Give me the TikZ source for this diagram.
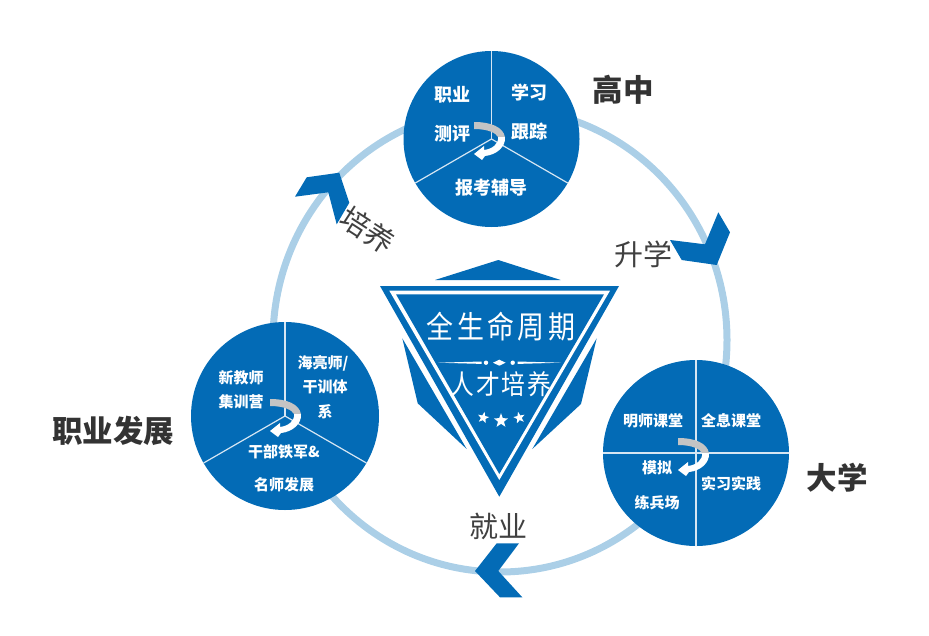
\documentclass[tikz,border=0pt]{standalone}
\usepackage{fontspec}
\setmainfont{Noto Sans CJK SC}
\usetikzlibrary{shapes.geometric}
\definecolor{badgeblue}{HTML}{036BB6}
\definecolor{ringblue}{HTML}{ABCFE7}
\definecolor{seamblue}{HTML}{D6E6F3}
\definecolor{turngrey}{HTML}{C4C4C4}
\definecolor{wordgrey}{HTML}{404040}
\tikzset{
  stagedisc/.style={circle, fill=badgeblue, inner sep=0pt, outer sep=0pt},
  seam/.style={draw=seamblue, line width=1.2pt},
  chevron/.style={fill=badgeblue},
  cell/.style={text=white, font=\bfseries\fontsize{#1}{#1}\selectfont, inner sep=0pt},
  cell/.default=15,
  stage/.style={text=black!80, font=\bfseries\fontsize{30.5}{31}\selectfont, inner sep=0pt},
  link/.style={text=wordgrey, font=\fontsize{29}{30}\selectfont, inner sep=0pt},
  badgestar/.style={star, star points=5, star point ratio=2.4, fill=white, inner sep=0pt},
  turnarrow/.pic={
    \fill[turngrey] (0,0) .. controls (17,0) and (29,5) .. (31,15) -- (24,15)
      .. controls (22,11) and (14,7) .. (0,7) -- cycle;
    \fill[white] (31,15) .. controls (32,25) and (22,33) .. (11,34) -- (8,38) -- (0,32) -- (10,24)
      -- (10,28) .. controls (18,27) and (25,22) .. (24,15) -- cycle;
  }
}
\begin{document}
\begin{tikzpicture}[x=1pt, y=-1pt]
  \useasboundingbox (0,0) rectangle (929,635);

  % ring behind the discs
  \draw[ringblue, line width=7pt] (500,340) ellipse [x radius=227, y radius=232];

  % arrows on the ring
  \fill[chevron] (295,196.7) -- (306.7,177.3) -- (339.3,172.7) -- (349.3,202.7) -- (336.7,224.3) -- (328.3,192.3) -- cycle;
  \fill[chevron] (670,240) -- (705,244.3) -- (718.3,212.3) -- (730,232.3) -- (716.7,265) -- (681.7,260) -- cycle;
  \fill[chevron] (475,571) -- (496.7,543.3) -- (519,543.3) -- (498.3,571) -- (522.3,597.3) -- (500,597.3) -- cycle;

  % top disc
  \node[stagedisc, minimum size=176pt] (gz) at (491.5,139) {};
  \draw[seam] (gz.center) -- (gz.90);
  \draw[seam] (gz.center) -- (gz.210);
  \draw[seam] (gz.center) -- (gz.330);
  \pic at (474,122) {turnarrow};
  \node[cell=18] (gz1) at (452,95) {职业};
  \node[cell=18] (gz2) at (452,134) {测评};
  \node[cell=18] (gz3) at (529,93) {学习};
  \node[cell=18] (gz4) at (529,132) {跟踪};
  \node[cell=18] (gz5) at (491,188) {报考辅导};
  \node[stage] (gzname) at (623,90) {高中};

  % right disc
  \node[stagedisc, minimum size=186pt] (dx) at (696,453) {};
  \draw[seam] (dx.center) -- (dx.90);
  \draw[seam] (dx.center) -- (dx.0);
  \draw[seam] (dx.center) -- (dx.270);
  \draw[seam] (dx.center) -- (dx.180);
  \pic at (678,438) {turnarrow};
  \node[cell] (dx1) at (653,421) {明师课堂};
  \node[cell] (dx2) at (731,421) {全息课堂};
  \node[cell] (dx3) at (657,468) {模拟};
  \node[cell] (dx4) at (731,484) {实习实践};
  \node[cell] (dx5) at (657,503) {练兵场};
  \node[stage] (dxname) at (837,478) {大学};

  % left disc
  \node[stagedisc, minimum size=188pt] (zy) at (285,416) {};
  \draw[seam] (zy.center) -- (zy.90);
  \draw[seam] (zy.center) -- (zy.210);
  \draw[seam] (zy.center) -- (zy.330);
  \pic at (270,399) {turnarrow};
  \node[cell] (zy1) at (241,378) {新教师};
  \node[cell] (zy2) at (241,402) {集训营};
  \node[cell] (zy3) at (323,363) {海亮师/};
  \node[cell] (zy4) at (325,387) {干训体};
  \node[cell] (zy5) at (325,412) {系};
  \node[cell] (zy6) at (284,452) {干部铁军\&};
  \node[cell] (zy7) at (284,485) {名师发展};
  \node[stage] (zyname) at (113,431) {职业发展};

  % words along the ring
  \node[link] (shengxue) at (643,254) {升学};
  \node[link] (jiuye) at (498,526) {就业};
  \node[link, rotate=-33] (peiyang) at (368,230) {培养};

  % centre badge
  \fill[badgeblue] (435,280) -- (498.3,260) -- (560.7,280) -- cycle;
  \fill[badgeblue] (380,286) -- (619,286) -- (499.3,496.7) -- cycle;
  \fill[white] (389.3,290.7) -- (610,290.7) -- (499.3,480) -- cycle;
  \fill[badgeblue] (396,294.3) -- (604,294.3) -- (499.3,474) -- cycle;
  \fill[badgeblue] (402.3,338.3) -- (417.7,403.3) -- (466.7,449) -- cycle;
  \fill[badgeblue] (596.7,338.3) -- (581,404) -- (532.3,449) -- cycle;
  \node[text=white, inner sep=0pt, font=\fontsize{31}{32}\selectfont\addfontfeature{LetterSpace=13}] (title) at (501,327) {\scalebox{0.87}[1]{全生命周期}};
  \node[text=white, inner sep=0pt, font=\fontsize{27}{28}\selectfont\addfontfeature{LetterSpace=7}] (subtitle) at (501,384) {\scalebox{0.88}[1]{人才培养}};
  % divider
  \fill[white] (438,362.7) .. controls (460,361.7) .. (481.7,361.5) -- (481.7,363.9) .. controls (460,363.7) .. cycle;
  \fill[white] (561,362.7) .. controls (539,361.7) .. (517.7,361.5) -- (517.7,363.9) .. controls (539,363.7) .. cycle;
  \fill[white] (486,362.7) circle [radius=2.2];
  \fill[white] (512.7,362.7) circle [radius=2.2];
  \fill[white] (493,362.7) -- (499.3,359.7) -- (505.6,362.7) -- (499.3,365.7) -- cycle;
  % stars
  \node[badgestar, minimum size=12pt, rotate=-12] (star1) at (483.3,417.7) {};
  \node[badgestar, minimum size=15pt] (star2) at (501,420.7) {};
  \node[badgestar, minimum size=12pt, rotate=12] (star3) at (519.3,417.7) {};
\end{tikzpicture}
\end{document}
